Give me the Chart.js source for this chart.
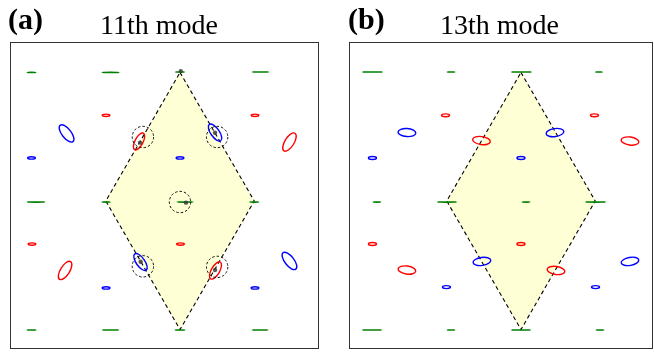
<!DOCTYPE html>
<html>
<head>
<meta charset="utf-8">
<script src="https://cdn.jsdelivr.net/npm/chart.js@4.4.1/dist/chart.umd.min.js"></script>
<style>
  html, body { margin: 0; padding: 0; background: #fff; }
  #wrap { position: relative; width: 654px; height: 354px; overflow: hidden; }
  .panel { position: absolute; top: 0; height: 354px; }
</style>
</head>
<body>
<div id="wrap">
  <div class="panel" style="left:0;width:330px"><canvas id="panelA" width="330" height="354"></canvas></div>
  <div class="panel" style="left:330px;width:324px"><canvas id="panelB" width="324" height="354"></canvas></div>
</div>
<script>
// Unit cell (rhombus) corners, in units of the lattice constant
const cellX = [0, 0.5, 0, -0.5, 0];
const cellY = [0.866, 0, -0.866, 0, 0.866];

// Polarization ellipses per site: centre (x, y), semi-axes (a, b), tilt in degrees
// --- 11th mode ---
const m11Green = [
  { x: -1.000, y: 0.866, a: 0.028, b: 0, tilt: 0 },
  { x: -0.468, y: 0.866, a: 0.056, b: 0, tilt: 0 },
  { x:  0.000, y: 0.869, a: 0.030, b: 0, tilt: 0 },
  { x:  0.542, y: 0.869, a: 0.056, b: 0, tilt: 0 },
  { x: -0.970, y: -0.007, a: 0.060, b: 0, tilt: 0 },
  { x: -0.498, y: -0.007, a: 0.027, b: 0, tilt: 0 },
  { x:  0.034, y: -0.007, a: 0.054, b: 0, tilt: 0 },
  { x:  0.500, y: -0.007, a: 0.030, b: 0, tilt: 0 },
  { x: -1.000, y: -0.869, a: 0.030, b: 0, tilt: 0 },
  { x: -0.468, y: -0.869, a: 0.056, b: 0, tilt: 0 },
  { x:  0.000, y: -0.869, a: 0.033, b: 0, tilt: 0 },
  { x:  0.539, y: -0.869, a: 0.054, b: 0, tilt: 0 }
];
const m11Red = [
  { x: -0.498, y: 0.577, a: 0.026, b: 0.008, tilt: 0 },
  { x:  0.505, y: 0.577, a: 0.026, b: 0.008, tilt: 0 },
  { x: -0.997, y: -0.290, a: 0.026, b: 0.008, tilt: 0 },
  { x:  0.003, y: -0.290, a: 0.026, b: 0.008, tilt: 0 },
  { x:  0.737, y: 0.397, a: 0.070, b: 0.031, tilt: 58 },
  { x: -0.774, y: -0.468, a: 0.070, b: 0.031, tilt: 58 },
  { x: -0.276, y: 0.401, a: 0.063, b: 0.027, tilt: 62 },
  { x:  0.239, y: -0.468, a: 0.065, b: 0.028, tilt: 60 }
];
const m11Blue = [
  { x: -1.000, y: 0.290, a: 0.026, b: 0.008, tilt: 0 },
  { x:  0.000, y: 0.290, a: 0.026, b: 0.008, tilt: 0 },
  { x: -0.498, y: -0.586, a: 0.026, b: 0.008, tilt: 0 },
  { x:  0.505, y: -0.586, a: 0.026, b: 0.008, tilt: 0 },
  { x: -0.764, y: 0.455, a: 0.070, b: 0.031, tilt: -52 },
  { x:  0.737, y: -0.404, a: 0.070, b: 0.031, tilt: -52 },
  { x:  0.236, y: 0.461, a: 0.067, b: 0.029, tilt: -55 },
  { x: -0.266, y: -0.411, a: 0.067, b: 0.029, tilt: -55 }
];
// Highlighted sites (dashed rings) and their markers
const m11Rings = [
  { x: -0.250, y: 0.431, a: 0.072, b: 0.072, tilt: 0 },
  { x:  0.250, y: 0.431, a: 0.072, b: 0.072, tilt: 0 },
  { x: -0.250, y: -0.440, a: 0.072, b: 0.072, tilt: 0 },
  { x:  0.250, y: -0.444, a: 0.072, b: 0.072, tilt: 0 },
  { x:  0.000, y: -0.007, a: 0.072, b: 0.072, tilt: 0 }
];
const m11Dots = [
  { x:  0.005, y: 0.875 },
  { x:  0.040, y: -0.011 },
  { x: -0.269, y: 0.393 },
  { x:  0.236, y: 0.460 },
  { x: -0.265, y: -0.409 },
  { x:  0.236, y: -0.465 }
];

// --- 13th mode ---
const m13Green = [
  { x: -1.000, y: 0.869, a: 0.068, b: 0, tilt: 0 },
  { x: -0.471, y: 0.869, a: 0.025, b: 0, tilt: 0 },
  { x:  0.003, y: 0.869, a: 0.068, b: 0, tilt: 0 },
  { x:  0.525, y: 0.869, a: 0.022, b: 0, tilt: 0 },
  { x: -0.970, y: -0.007, a: 0.025, b: 0, tilt: 0 },
  { x: -0.498, y: -0.007, a: 0.065, b: 0, tilt: 0 },
  { x:  0.034, y: -0.007, a: 0.025, b: 0, tilt: 0 },
  { x:  0.502, y: -0.007, a: 0.068, b: 0, tilt: 0 },
  { x: -1.003, y: -0.869, a: 0.065, b: 0, tilt: 0 },
  { x: -0.471, y: -0.869, a: 0.025, b: 0, tilt: 0 },
  { x:  0.000, y: -0.869, a: 0.065, b: 0, tilt: 0 },
  { x:  0.532, y: -0.869, a: 0.025, b: 0, tilt: 0 }
];
const m13Red = [
  { x: -0.508, y: 0.577, a: 0.027, b: 0.010, tilt: 0 },
  { x:  0.495, y: 0.577, a: 0.027, b: 0.010, tilt: 0 },
  { x: -1.000, y: -0.290, a: 0.027, b: 0.010, tilt: 0 },
  { x:  0.000, y: -0.290, a: 0.027, b: 0.010, tilt: 0 },
  { x: -0.266, y: 0.407, a: 0.060, b: 0.027, tilt: -8 },
  { x:  0.734, y: 0.404, a: 0.060, b: 0.027, tilt: -8 },
  { x: -0.768, y: -0.465, a: 0.060, b: 0.027, tilt: -8 },
  { x:  0.236, y: -0.468, a: 0.060, b: 0.027, tilt: -8 }
];
const m13Blue = [
  { x: -1.000, y: 0.290, a: 0.027, b: 0.010, tilt: 0 },
  { x:  0.000, y: 0.290, a: 0.027, b: 0.010, tilt: 0 },
  { x: -0.502, y: -0.580, a: 0.027, b: 0.010, tilt: 0 },
  { x:  0.502, y: -0.580, a: 0.027, b: 0.010, tilt: 0 },
  { x: -0.768, y: 0.461, a: 0.060, b: 0.027, tilt: -4 },
  { x:  0.229, y: 0.461, a: 0.060, b: 0.027, tilt: 8 },
  { x: -0.263, y: -0.407, a: 0.060, b: 0.027, tilt: 8 },
  { x:  0.734, y: -0.407, a: 0.060, b: 0.027, tilt: 10 }
];

// Draws each ellipse dataset through the chart's own x/y scales
const ellipsePlugin = {
  id: 'siteEllipses',
  afterDatasetsDraw(chart) {
    const { ctx, chartArea: ca } = chart;
    const xs = chart.scales.x, ys = chart.scales.y;
    const unit = Math.abs(xs.getPixelForValue(1) - xs.getPixelForValue(0));
    ctx.save();
    ctx.beginPath();
    ctx.rect(ca.left, ca.top, ca.right - ca.left, ca.bottom - ca.top);
    ctx.clip();
    chart.data.datasets.forEach(ds => {
      if (!ds.shapeKind) return;
      ds.data.forEach(p => {
        const cx = xs.getPixelForValue(p.x);
        const cy = ys.getPixelForValue(p.y);
        ctx.beginPath();
        if (ds.shapeKind === 'dot') {
          ctx.arc(cx, cy, ds.dotSize, 0, Math.PI * 2);
          ctx.fillStyle = ds.dotColor;
          ctx.fill();
          return;
        }
        const ra = p.a * unit;
        const rb = Math.max(p.b * unit, 0.05);
        ctx.ellipse(cx, cy, ra, rb, -p.tilt * Math.PI / 180, 0, Math.PI * 2);
        ctx.setLineDash(ds.ringDash || []);
        ctx.lineCap = 'butt';
        ctx.strokeStyle = ds.ringColor;
        ctx.lineWidth = ds.ringWidth;
        ctx.stroke();
      });
    });
    ctx.restore();
  }
};

// Plot frame and panel headings
const framePlugin = {
  id: 'panelFrame',
  afterDraw(chart) {
    const { ctx, chartArea: ca } = chart;
    const o = chart.options.plugins.panelFrame;
    ctx.save();
    ctx.strokeStyle = '#333';
    ctx.lineWidth = 1;
    ctx.setLineDash([]);
    ctx.strokeRect(ca.left + 0.5, ca.top + 0.5, ca.right - ca.left - 1, ca.bottom - ca.top - 1);
    ctx.fillStyle = '#000';
    ctx.textBaseline = 'alphabetic';
    ctx.textAlign = 'left';
    ctx.font = 'bold 30px "Liberation Serif", serif';
    ctx.fillText(o.label, o.labelX, 29);
    ctx.font = '28px "Liberation Serif", serif';
    ctx.fillText(o.title, o.titleX, 34);
    ctx.restore();
  }
};

function cellData() {
  return cellX.map((v, i) => ({ x: v, y: cellY[i] }));
}

function makePanel(id, cfg) {
  const sites = (data, color, width, dash) => ({
    data, shapeKind: 'ellipse', ringColor: color, ringWidth: width, ringDash: dash,
    showLine: false, pointRadius: 0, pointHoverRadius: 0
  });
  const datasets = [
    {
      label: 'cell',
      data: cellData(),
      showLine: true,
      fill: 'shape',
      backgroundColor: 'rgb(255,255,214)',
      borderColor: '#000',
      borderWidth: 1.1,
      borderDash: [4, 3],
      tension: 0,
      pointRadius: 0
    },
    sites(cfg.green, '#008000', 1.6),
    sites(cfg.red, '#ff0000', 1.4),
    sites(cfg.blue, '#0000ff', 1.4)
  ];
  if (cfg.rings) datasets.push(sites(cfg.rings, '#111', 1, [2.5, 2]));
  if (cfg.dots) datasets.push({ data: cfg.dots, shapeKind: 'dot', dotSize: 2.2, dotColor: 'rgba(60,60,60,0.85)', pointRadius: 0 });

  return new Chart(document.getElementById(id), {
    type: 'scatter',
    data: { datasets },
    options: {
      responsive: false,
      animation: false,
      events: [],
      layout: { padding: cfg.padding },
      scales: {
        x: { type: 'linear', min: cfg.xRange[0], max: cfg.xRange[1], display: false },
        y: { type: 'linear', min: -0.997, max: 1.071, display: false }
      },
      plugins: {
        legend: { display: false },
        tooltip: { enabled: false },
        panelFrame: { label: cfg.label, labelX: cfg.labelX, title: cfg.title, titleX: cfg.titleX }
      }
    },
    plugins: [ellipsePlugin, framePlugin]
  });
}

makePanel('panelA', {
  green: m11Green, red: m11Red, blue: m11Blue, rings: m11Rings, dots: m11Dots,
  xRange: [-1.145, 0.936],
  padding: { left: 10, right: 11, top: 42, bottom: 5 },
  label: '(a)', labelX: 8, title: '11th mode', titleX: 100
});

makePanel('panelB', {
  green: m13Green, red: m13Red, blue: m13Blue,
  xRange: [-1.158, 0.889],
  padding: { left: 19, right: 1, top: 42, bottom: 5 },
  label: '(b)', labelX: 18, title: '13th mode', titleX: 110
});
</script>
</body>
</html>
